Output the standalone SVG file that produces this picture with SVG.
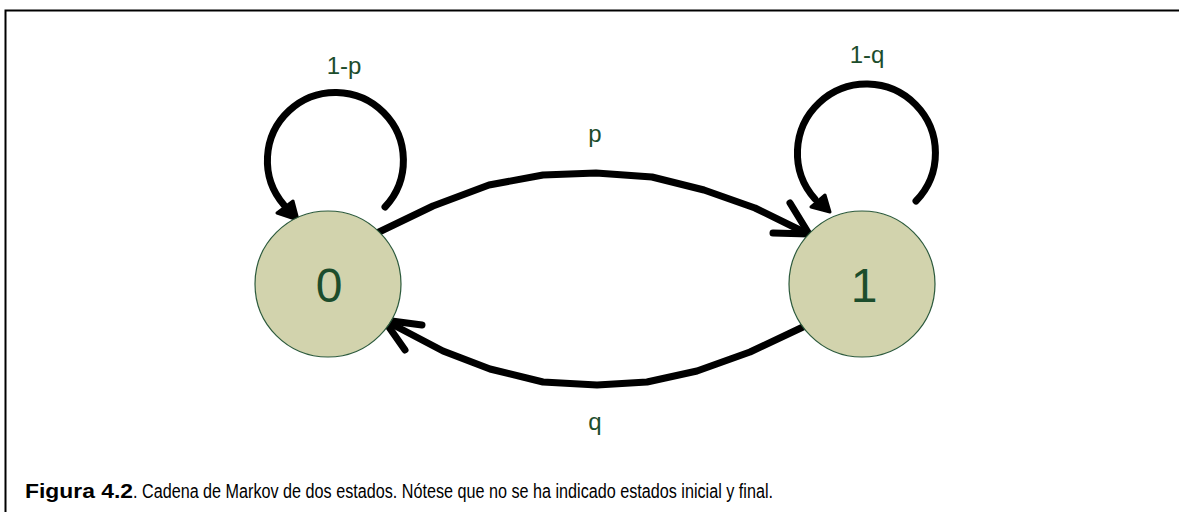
<svg xmlns="http://www.w3.org/2000/svg" width="1179" height="512" viewBox="0 0 1179 512">
<style>
.node{fill:#d2d3ad;stroke:#2c5a3c;stroke-width:1.2}
.nlabel{font-size:48px;fill:#1c4d2c;text-anchor:middle}
.elabel{font-size:24px;fill:#1c4d2c;text-anchor:middle}
.edge{fill:none;stroke:#000;stroke-width:7;stroke-linecap:round;stroke-linejoin:round}
.head{fill:#000;stroke:#000;stroke-width:3;stroke-linejoin:round}
.cap{font-size:19.5px;fill:#000}
</style>
<rect width="1179" height="512" fill="#fff"/>
<path d="M5.5,512 V10.5 H1179" fill="none" stroke="#000" stroke-width="2"/>
<g id="connectors">
<g id="loop0">
<path class="edge" d="M385,207 A68,68 0 1 0 284,205"/>
<polygon class="head" points="298,220 277,213 293,201"/>
</g>
<g id="loop1">
<path class="edge" d="M916,201 A69,69 0 1 0 815,199"/>
<polygon class="head" points="830,212 811,207 825,195"/>
</g>
<g id="edge-p">
<polyline class="edge" points="379,232 433,206 489,185 543,175 596,173 652,177 704,190 755,208 808,234"/>
<polyline class="edge" points="790,203 809,234 773,233"/>
</g>
<g id="edge-q">
<polyline class="edge" points="803,327 750,352 697,371 647,382 597,385 543,382 490,369 443,351 384,320"/>
<polyline class="edge" points="422,325 384,320 405,350"/>
</g>
</g>
<g id="node0">
<circle class="node" cx="328" cy="284" r="73"/>
<text class="nlabel" font-family="Liberation Sans, Arimo, Arial, sans-serif" x="329" y="302">0</text>
</g>
<g id="node1">
<circle class="node" cx="862" cy="284" r="73"/>
<text class="nlabel" font-family="Liberation Sans, Arimo, Arial, sans-serif" x="864" y="302">1</text>
</g>
<g font-family="Liberation Sans, Arimo, Arial, sans-serif">
<text class="elabel" x="344" y="74">1-p</text>
<text class="elabel" x="867" y="63">1-q</text>
<text class="elabel" x="595" y="142">p</text>
<text class="elabel" x="595" y="430">q</text>
</g>
<g font-family="Liberation Sans, Arimo, Arial, sans-serif">
<text class="cap" x="25" y="498" font-weight="bold" textLength="108" lengthAdjust="spacingAndGlyphs">Figura 4.2</text>
<text class="cap" x="133" y="498" textLength="640" lengthAdjust="spacingAndGlyphs">. Cadena de Markov de dos estados. Nótese que no se ha indicado estados inicial y final.</text>
</g>
</svg>
